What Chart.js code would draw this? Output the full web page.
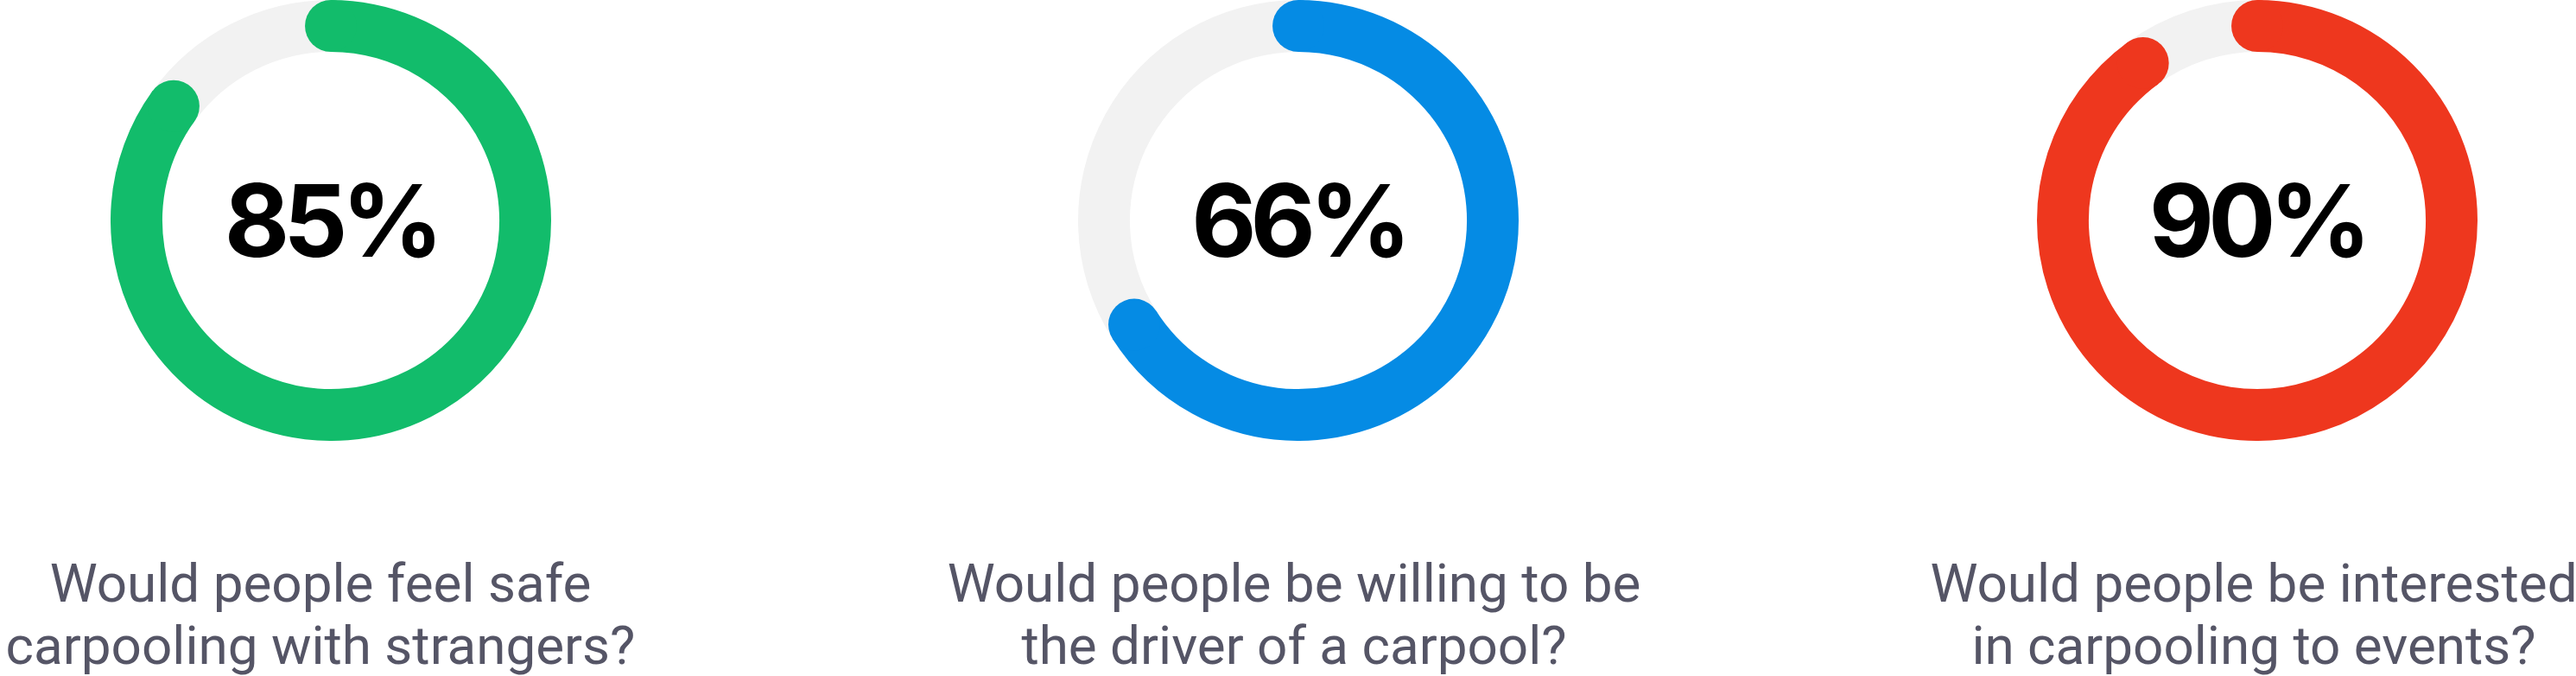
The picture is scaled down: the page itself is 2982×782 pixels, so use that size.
<!DOCTYPE html>
<html>
<head>
<meta charset="utf-8">
<script src="https://cdn.jsdelivr.net/npm/chart.js@4.4.1/dist/chart.umd.min.js"></script>
<style>
    html, body { margin: 0; padding: 0; background: #fff; }
    body { position: relative; width: 2982px; height: 782px; overflow: hidden; }
    .ring { position: absolute; top: 0; width: 510px; height: 510px; }
    .ring canvas { display: block; }
    .pct {
        position: absolute; left: 0; top: 0; width: 510px; height: 510px;
        display: flex; align-items: center; justify-content: center;
        font-family: Inter, sans-serif; font-weight: 700; font-size: 116px;
        line-height: 1; color: #000; letter-spacing: -7px;
    }
    .q {
        position: absolute; top: 639px; transform: translateX(-50%);
        white-space: nowrap; text-align: center;
        font-family: Roboto, sans-serif; font-size: 62px; line-height: 72px;
        color: #555566;
    }
</style>
</head>
<body>
<script>
// survey results
const questions = [
    ['Would people feel safe', 'carpooling with strangers?'],
    ['Would people be willing to be', 'the driver of a carpool?'],
    ['Would people be interested', 'in carpooling to events?']
];
const values = [85, 66, 90];

// look & layout
const colors = ['#12BC6B', '#058BE4', '#EE371E'];
const TRACK = '#F2F2F2';
const ringX = [383, 1503, 2613];
const labelX = [371, 1498, 2609];

// round the two ends of the value arc, like a stroke with round caps
const roundCaps = {
    id: 'roundCaps',
    afterDatasetsDraw(chart) {
        const arc = chart.getDatasetMeta(0).data[0];
        if (!arc) return;
        const p = arc.getProps(['x', 'y', 'startAngle', 'endAngle', 'innerRadius', 'outerRadius'], true);
        const mid = (p.innerRadius + p.outerRadius) / 2;
        const r = (p.outerRadius - p.innerRadius) / 2;
        const ctx = chart.ctx;
        ctx.save();
        ctx.fillStyle = arc.options.backgroundColor;
        [p.startAngle, p.endAngle].forEach(a => {
            ctx.beginPath();
            ctx.arc(p.x + mid * Math.cos(a), p.y + mid * Math.sin(a), r, 0, Math.PI * 2);
            ctx.fill();
        });
        ctx.restore();
    }
};

values.forEach((v, i) => {
    const box = document.createElement('div');
    box.className = 'ring';
    box.style.left = (ringX[i] - 255) + 'px';
    const cv = document.createElement('canvas');
    cv.width = 510;
    cv.height = 510;
    box.appendChild(cv);
    const pct = document.createElement('div');
    pct.className = 'pct';
    pct.textContent = v + '%';
    box.appendChild(pct);
    document.body.appendChild(box);

    const q = document.createElement('div');
    q.className = 'q';
    q.style.left = labelX[i] + 'px';
    q.innerHTML = questions[i].join('<br>');
    document.body.appendChild(q);

    new Chart(cv, {
        type: 'doughnut',
        data: {
            labels: ['Yes', 'Rest'],
            datasets: [{
                data: [v, 100 - v],
                backgroundColor: [colors[i], TRACK],
                borderWidth: 0,
                hoverOffset: 0
            }]
        },
        options: {
            responsive: false,
            animation: false,
            cutout: '76.5%',
            events: [],
            layout: { padding: 0 },
            plugins: { legend: { display: false }, tooltip: { enabled: false } }
        },
        plugins: [roundCaps]
    });
});
</script>
</body>
</html>
